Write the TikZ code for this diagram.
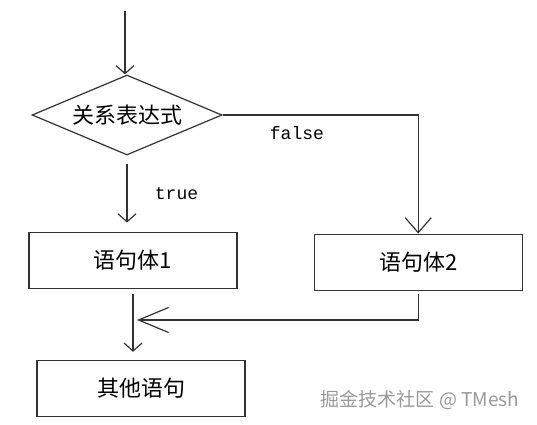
\documentclass[tikz,border=0pt]{standalone}
\usepackage{fontspec}
\setmainfont{Noto Sans CJK SC}
\newfontfamily\codefont{Liberation Mono}
\usetikzlibrary{shapes.geometric, arrows.meta, positioning}

\begin{document}
\begin{tikzpicture}[
  x=1pt, y=1pt, node distance=76pt,
  box/.style={rectangle, draw=black!80, line width=1.2pt, minimum width=208pt, minimum height=56pt, font=\fontsize{22}{26}\selectfont},
  decision/.style={diamond, draw=black!80, line width=1.2pt, aspect=2.4, inner sep=1pt, minimum width=190pt, minimum height=80pt, font=\fontsize{22}{26}\selectfont},
  arrow/.style={draw=black!80, line width=1.2pt, -{Straight Barb[length=8pt, width=18pt]}},
  flag/.style={font=\codefont\fontsize{18}{20}\selectfont},
  watermark/.style={text=black!40, font=\fontsize{19}{22}\selectfont}
]
  \useasboundingbox (0,0) rectangle (537,424);

  \node [decision] (cond) at (127,309) {关系表达式};
  \node [box, below=76pt of cond, xshift=6pt] (body1) {语句体1};
  \node [box, right=76pt of body1, yshift=-2pt] (body2) {语句体2};
  \node [box, below=71pt of body1, xshift=8pt] (other) {其他语句};
  \coordinate [above=63pt of cond, xshift=-2pt] (start);
  \coordinate (join) at (137,104);
  \node [watermark] (site) at (420,24) {掘金技术社区 @ TMesh};

  \draw [arrow] (start) -- (start |- cond.north);
  \draw [arrow, shorten <=8pt, shorten >=9pt] (cond.south) -- node[flag, right=24pt] {true} (cond.south |- body1.north);
  \draw [arrow, -{Straight Barb[length=15pt, width=26pt]}] (cond.east) -| node[flag, pos=0.19, below=8pt] {false} (body2.north);
  \draw [arrow, shorten <=5pt, shorten >=8pt] (body1.south) -- (body1.south |- other.north);
  \draw [arrow, shorten <=3pt, -{Straight Barb[length=30pt, width=25pt]}] (body2.south) |- (join);
\end{tikzpicture}
\end{document}
